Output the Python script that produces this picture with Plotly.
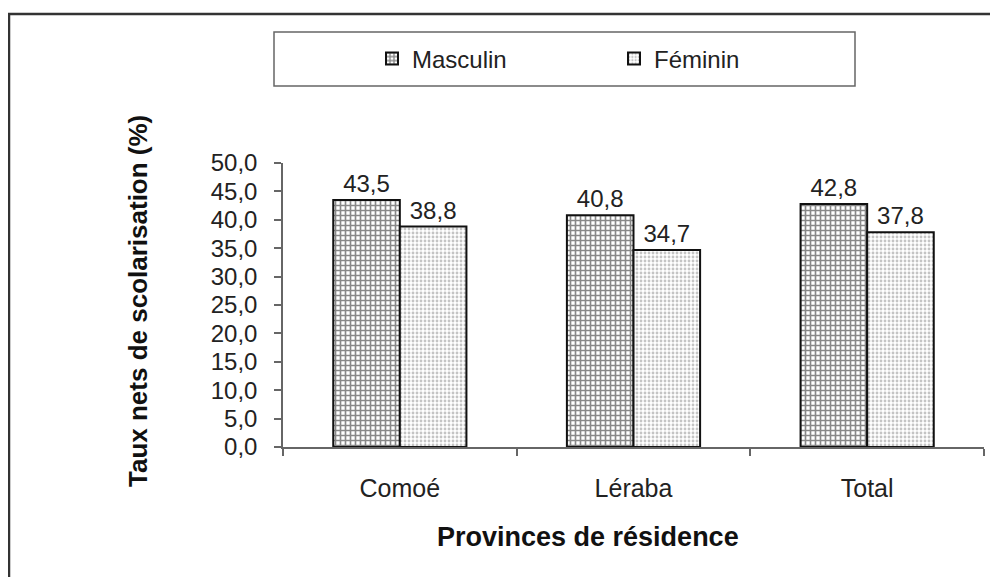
import plotly.graph_objects as go

provinces = ["Comoé", "Léraba", "Total"]
masculin = [43.5, 40.8, 42.8]
feminin = [38.8, 34.7, 37.8]
y_ticks = [0, 5, 10, 15, 20, 25, 30, 35, 40, 45, 50]

# la page HTML a une marge de 8 px : figure réduite pour tenir dans 998x577
OFF = 8
W, H = 998 - OFF, 577 - OFF
L, R, T, B = 283 - OFF, 998 - 984, 163 - OFF, 577 - 447
PW, PH = W - L - R, H - T - B


def px(x):
    # coordonnée écran -> papier
    return (x - OFF - L) / PW


def py(y):
    return (H - B - (y - OFF)) / PH


FONT = "Liberation Sans, Arial, sans-serif"

fig = go.Figure()
fig.add_trace(go.Bar(
    x=provinces, y=masculin, name="Masculin",
    marker=dict(color="white", line=dict(color="#111", width=2),
                pattern=dict(shape="+", fgcolor="#111", bgcolor="white", size=5, solidity=0.55)),
    texttemplate="%{y:.1f}", textposition="outside",
    textfont=dict(size=24, color="#222"), cliponaxis=False,
))
fig.add_trace(go.Bar(
    x=provinces, y=feminin, name="Féminin",
    marker=dict(color="white", line=dict(color="#111", width=2),
                pattern=dict(shape=".", fgcolor="#8a8a8a", bgcolor="white", size=4, solidity=0.4)),
    texttemplate="%{y:.1f}", textposition="outside",
    textfont=dict(size=24, color="#222"), cliponaxis=False,
))

fig.update_layout(
    width=W, height=H,
    margin=dict(l=L, r=R, t=T, b=B),
    paper_bgcolor="white", plot_bgcolor="white",
    separators=", ",
    barmode="group", bargap=0.43, bargroupgap=0,
    font=dict(family=FONT, size=22, color="#222"),
    showlegend=True,
    legend=dict(orientation="h", x=px(372), y=py(59), xanchor="left", yanchor="middle",
                entrywidth=197, bgcolor="rgba(0,0,0,0)", borderwidth=0,
                font=dict(size=24, color="#222")),
    xaxis=dict(showline=True, linecolor="#666", linewidth=1.5, ticks="outside",
               tickson="boundaries", ticklen=7, tickcolor="#666", tickwidth=1.5,
               ticklabelstandoff=18, tickfont=dict(size=25, color="#222"),
               showgrid=False, zeroline=False),
    yaxis=dict(range=[0, 50], tickvals=y_ticks, tickformat=".1f",
               showline=True, linecolor="#666", linewidth=1.5, ticks="outside",
               ticklen=7, tickcolor="#666", tickwidth=1.5, ticklabelstandoff=12,
               tickfont=dict(size=24, color="#222"), showgrid=False, zeroline=False),
    shapes=[
        # cadre extérieur
        dict(type="rect", xref="paper", yref="paper", x0=px(9), x1=px(1010), y0=py(590), y1=py(14),
             line=dict(color="#333", width=2.5), layer="below"),
        # cadre de la légende
        dict(type="rect", xref="paper", yref="paper", x0=px(274), x1=px(855), y0=py(86), y1=py(32),
             line=dict(color="#666", width=1.5), layer="below"),
    ],
    annotations=[
        dict(text="<b>Taux nets de scolarisation (%)</b>", xref="paper", yref="paper",
             x=px(138), y=py(301), textangle=-90, showarrow=False,
             font=dict(size=26, color="#111"), xanchor="center", yanchor="middle"),
        dict(text="<b>Provinces de résidence</b>", xref="paper", yref="paper",
             x=px(588), y=py(537), showarrow=False,
             font=dict(size=27, color="#111"), xanchor="center", yanchor="middle"),
    ],
)

fig.write_html("out.html")
